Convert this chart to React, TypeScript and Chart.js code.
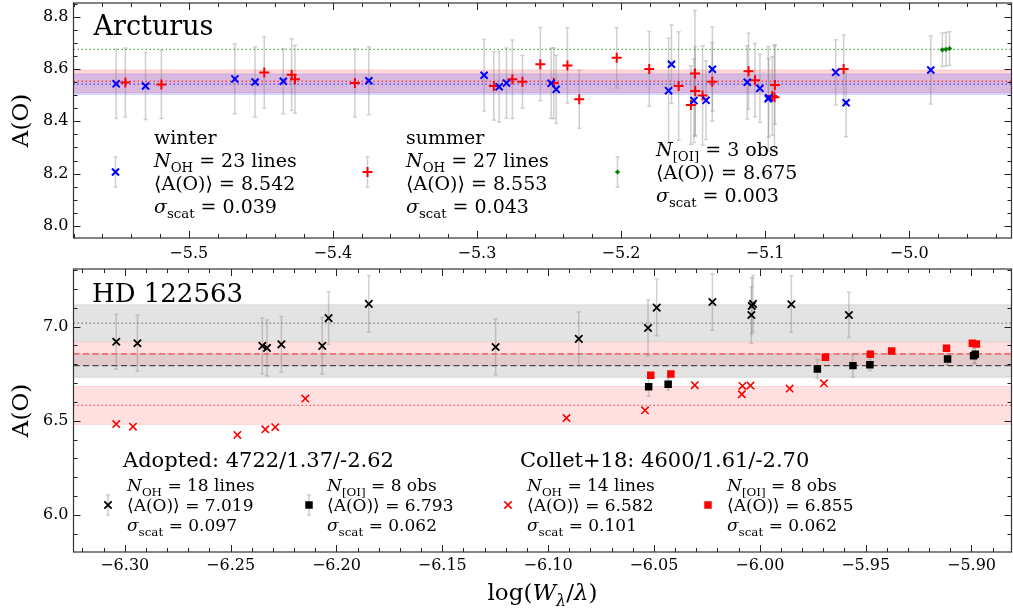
import React, { useEffect, useRef } from 'react';
import { Chart, registerables } from 'chart.js';

Chart.register(...registerables);

const SERIF = '"DejaVu Serif", "Liberation Serif", serif';
const W = 1013;
const TOP_H = 262;
const BOT_H = 352;

// ---------------- Arcturus (top panel) ----------------
const winterX = [-5.5504, -5.530, -5.468, -5.454, -5.4344, -5.375, -5.295, -5.2846, -5.2795, -5.2485, -5.245, -5.167, -5.165, -5.1494, -5.141, -5.1366, -5.1124, -5.1036, -5.0978, -5.0975, -5.051, -5.0438, -4.985];
const winterY = [8.543, 8.535, 8.562, 8.550, 8.553, 8.555, 8.576, 8.532, 8.546, 8.545, 8.522, 8.517, 8.618, 8.479, 8.480, 8.599, 8.549, 8.526, 8.486, 8.490, 8.587, 8.471, 8.596];
const winterErr = [0.132, 0.128, 0.133, 0.134, 0.124, 0.13, 0.137, 0.135, 0.134, 0.134, 0.13, 0.2, 0.15, 0.16, 0.15, 0.16, 0.14, 0.13, 0.2, 0.15, 0.125, 0.13, 0.13];

const summerX = [-5.544, -5.519, -5.4476, -5.4286, -5.4263, -5.3847, -5.2883, -5.2754, -5.2684, -5.256, -5.2467, -5.2372, -5.229, -5.203, -5.1804, -5.160, -5.1487, -5.1485, -5.1515, -5.1434, -5.1367, -5.1115, -5.107, -5.0932, -5.095, -5.0935, -5.0455];
const summerY = [8.548, 8.541, 8.586, 8.578, 8.561, 8.546, 8.535, 8.561, 8.551, 8.618, 8.546, 8.613, 8.484, 8.643, 8.600, 8.535, 8.583, 8.516, 8.462, 8.499, 8.551, 8.591, 8.557, 8.539, 8.497, 8.492, 8.600];
const summerErr = [0.132, 0.13, 0.136, 0.137, 0.13, 0.13, 0.13, 0.15, 0.10, 0.14, 0.135, 0.143, 0.111, 0.115, 0.143, 0.207, 0.24, 0.17, 0.15, 0.19, 0.15, 0.145, 0.14, 0.15, 0.15, 0.2, 0.13];

const oiArcX = [-4.977, -4.9745, -4.972];
const oiArcY = [8.673, 8.675, 8.678];
const oiArcErr = [0.064, 0.064, 0.064];

const winterMean = 8.542, winterSig = 0.039, winterN = 23;
const summerMean = 8.553, summerSig = 0.043, summerN = 27;
const oiArcMean = 8.675, oiArcSig = 0.003, oiArcN = 3;

const topXRange = [-5.58, -4.929];
const topYRange = [7.954, 8.852];
const topXTicks = [-5.5, -5.4, -5.3, -5.2, -5.1, -5.0];
const topYTicks = [8.0, 8.2, 8.4, 8.6, 8.8];

// ---------------- HD 122563 (bottom panel) ----------------
const ohAdoptX = [-6.304, -6.294, -6.235, -6.2328, -6.226, -6.2067, -6.2037, -6.1847, -6.1248, -6.0855, -6.0528, -6.0487, -6.0224, -6.004, -6.0038, -6.0032, -5.9851, -5.9579];
const ohAdoptY = [6.920, 6.912, 6.898, 6.887, 6.906, 6.898, 7.045, 7.121, 6.892, 6.935, 6.993, 7.101, 7.131, 7.062, 7.110, 7.121, 7.119, 7.062];
const ohAdoptErr = [0.146, 0.148, 0.148, 0.148, 0.148, 0.15, 0.139, 0.15, 0.148, 0.143, 0.148, 0.15, 0.15, 0.15, 0.15, 0.15, 0.15, 0.12];

const oiAdoptX = [-6.0525, -6.0433, -5.9728, -5.9560, -5.948, -5.9113, -5.8982, -5.899];
const oiAdoptY = [6.681, 6.694, 6.775, 6.793, 6.797, 6.828, 6.853, 6.845];
const oiAdoptErr = [0.05, 0.03, 0.05, 0.06, 0.03, 0.03, 0.05, 0.04];

const ohColX = [-6.304, -6.2961, -6.2468, -6.2336, -6.2289, -6.2147, -6.0913, -6.0542, -6.0307, -6.0085, -6.0082, -6.0044, -5.9859, -5.9697];
const ohColY = [6.483, 6.469, 6.425, 6.455, 6.466, 6.618, 6.515, 6.556, 6.689, 6.641, 6.685, 6.687, 6.671, 6.699];

const oiColX = [-6.0515, -6.042, -5.969, -5.9478, -5.9377, -5.9118, -5.8996, -5.8977];
const oiColY = [6.742, 6.749, 6.837, 6.853, 6.871, 6.885, 6.912, 6.908];

const ohAdoptMean = 7.019, ohAdoptSig = 0.097, ohAdoptN = 18;
const oiAdoptMean = 6.793, oiAdoptSig = 0.062, oiAdoptN = 8;
const ohColMean = 6.582, ohColSig = 0.101, ohColN = 14;
const oiColMean = 6.855, oiColSig = 0.062, oiColN = 8;

const botXRange = [-6.3242, -5.8811];
const botYRange = [5.8035, 7.306];
const botXTicks = [-6.30, -6.25, -6.20, -6.15, -6.10, -6.05, -6.00, -5.95, -5.90];
const botYTicks = [6.0, 6.5, 7.0];

// ---------------- helpers ----------------
type Seg = { t: string; it?: boolean; sub?: boolean };

function segFont(s: Seg, size: number) {
  const fs = s.sub ? size * 0.7 : size;
  return `${s.it ? 'italic ' : ''}${fs}px ${SERIF}`;
}
function richWidth(ctx: CanvasRenderingContext2D, segs: Seg[], size: number) {
  let w = 0;
  for (const s of segs) { ctx.font = segFont(s, size); w += ctx.measureText(s.t).width; }
  return w;
}
function drawRich(ctx: CanvasRenderingContext2D, segs: Seg[], x: number, y: number, size: number) {
  let cx = x;
  ctx.textAlign = 'left';
  ctx.textBaseline = 'alphabetic';
  for (const s of segs) {
    ctx.font = segFont(s, size);
    ctx.fillText(s.t, cx, y + (s.sub ? size * 0.27 : 0));
    cx += ctx.measureText(s.t).width;
  }
}
function drawMarker(ctx: CanvasRenderingContext2D, kind: string, x: number, y: number, r: number, color: string, lw: number) {
  ctx.save();
  ctx.strokeStyle = color; ctx.fillStyle = color; ctx.lineWidth = lw;
  ctx.beginPath();
  if (kind === 'crossRot') {
    const d = r * Math.SQRT1_2;
    ctx.moveTo(x - d, y - d); ctx.lineTo(x + d, y + d);
    ctx.moveTo(x - d, y + d); ctx.lineTo(x + d, y - d);
    ctx.stroke();
  } else if (kind === 'cross') {
    ctx.moveTo(x - r, y); ctx.lineTo(x + r, y);
    ctx.moveTo(x, y - r); ctx.lineTo(x, y + r);
    ctx.stroke();
  } else if (kind === 'rect') {
    const s = r * Math.SQRT1_2;
    ctx.fillRect(x - s, y - s, 2 * s, 2 * s);
  } else if (kind === 'rectRot') {
    ctx.moveTo(x, y - r); ctx.lineTo(x + r, y); ctx.lineTo(x, y + r); ctx.lineTo(x - r, y); ctx.closePath();
    ctx.fill();
  }
  ctx.restore();
}
function minorVals(min: number, max: number, step: number, majors: number[]) {
  const out: number[] = [];
  const n0 = Math.ceil(min / step - 1e-9), n1 = Math.floor(max / step + 1e-9);
  for (let n = n0; n <= n1; n++) {
    const v = n * step;
    if (!majors.some((m) => Math.abs(m - v) < step * 0.01)) out.push(v);
  }
  return out;
}
const fmt = (d: number) => (v: number | string) => {
  const n = Number(v);
  const s = Math.abs(n).toFixed(d);
  return (n < 0 ? '\u2212' : '') + s;
};
const pts = (xs: number[], ys: number[]) => xs.map((x, i) => ({ x, y: ys[i] }));
const sigmaLine = (v: number): Seg[] => [{ t: 'σ', it: true }, { t: 'scat', sub: true }, { t: ` = ${v.toFixed(3)}` }];
const meanLine = (v: number): Seg[] => [{ t: `⟨A(O)⟩ = ${v.toFixed(3)}` }];
const nohLine = (n: number): Seg[] => [{ t: 'N', it: true }, { t: 'OH', sub: true }, { t: ` = ${n} lines` }];
const noiLine = (n: number): Seg[] => [{ t: 'N', it: true }, { t: '[OI]', sub: true }, { t: ` = ${n} obs` }];

interface Band { lo: number; hi: number; fill: string }
interface HLine { y: number; color: string; dash: number[]; width: number }
interface ErrSet { xs: number[]; ys: number[]; errs: number[] }
interface LegendEntry { kind: string; color: string; r: number; lw: number; bar: number; hx: number; tx: number; lines: Seg[][] }
interface PanelCfg {
  bands: Band[]; lines: HLine[]; errs: ErrSet[];
  title: string; titleSize: number; titleDX: number; titleDY: number;
  legend: LegendEntry[]; legendCY: number; legendSize: number; legendLH: number;
  legendTitles: { text: string; dx: number }[]; legendTitleDY: number; legendTitleSize: number;
  xMajor: number[]; xMinorStep: number; yMajor: number[]; yMinorStep: number;
  xLabel?: Seg[]; xLabelY?: number;
}

function makePlugin(cfg: PanelCfg) {
  return {
    id: 'panelDecor',
    beforeDatasetsDraw(chart: any) {
      const { ctx, chartArea: a, scales } = chart;
      const xs = scales.x, ys = scales.y;
      ctx.save();
      ctx.beginPath();
      ctx.rect(a.left, a.top, a.right - a.left, a.bottom - a.top);
      ctx.clip();
      for (const b of cfg.bands) {
        const y1 = ys.getPixelForValue(b.hi), y2 = ys.getPixelForValue(b.lo);
        ctx.fillStyle = b.fill;
        ctx.fillRect(a.left, y1, a.right - a.left, y2 - y1);
        ctx.strokeStyle = b.fill; ctx.lineWidth = 1; ctx.setLineDash([]);
        ctx.beginPath();
        ctx.moveTo(a.left, y1); ctx.lineTo(a.right, y1);
        ctx.moveTo(a.left, y2); ctx.lineTo(a.right, y2);
        ctx.stroke();
      }
      for (const l of cfg.lines) {
        const y = ys.getPixelForValue(l.y);
        ctx.strokeStyle = l.color; ctx.lineWidth = l.width; ctx.setLineDash(l.dash);
        ctx.beginPath(); ctx.moveTo(a.left, y); ctx.lineTo(a.right, y); ctx.stroke();
      }
      ctx.setLineDash([]);
      ctx.strokeStyle = 'rgba(128,128,128,0.38)';
      ctx.lineWidth = 1.5;
      for (const e of cfg.errs) {
        e.xs.forEach((x, i) => {
          const px = xs.getPixelForValue(x);
          const p1 = ys.getPixelForValue(e.ys[i] + e.errs[i]);
          const p2 = ys.getPixelForValue(e.ys[i] - e.errs[i]);
          ctx.beginPath();
          ctx.moveTo(px, p1); ctx.lineTo(px, p2);
          ctx.moveTo(px - 2, p1); ctx.lineTo(px + 2, p1);
          ctx.moveTo(px - 2, p2); ctx.lineTo(px + 2, p2);
          ctx.stroke();
        });
      }
      ctx.restore();
    },
    afterDatasetsDraw(chart: any) {
      const { ctx, chartArea: a, scales } = chart;
      const xs = scales.x, ys = scales.y;
      ctx.save();
      // ticks (inward, all four sides)
      ctx.strokeStyle = '#222';
      ctx.lineWidth = 1;
      const xMin = minorVals(xs.min, xs.max, cfg.xMinorStep, cfg.xMajor);
      const yMin = minorVals(ys.min, ys.max, cfg.yMinorStep, cfg.yMajor);
      const doX = (vals: number[], len: number) => {
        for (const v of vals) {
          const px = Math.round(xs.getPixelForValue(v)) + 0.5;
          ctx.beginPath();
          ctx.moveTo(px, a.bottom); ctx.lineTo(px, a.bottom - len);
          ctx.moveTo(px, a.top); ctx.lineTo(px, a.top + len);
          ctx.stroke();
        }
      };
      const doY = (vals: number[], len: number) => {
        for (const v of vals) {
          const py = Math.round(ys.getPixelForValue(v)) + 0.5;
          ctx.beginPath();
          ctx.moveTo(a.left, py); ctx.lineTo(a.left + len, py);
          ctx.moveTo(a.right, py); ctx.lineTo(a.right - len, py);
          ctx.stroke();
        }
      };
      doX(cfg.xMajor, 7); doX(xMin, 4);
      doY(cfg.yMajor, 7); doY(yMin, 4);
      ctx.lineWidth = 1.2;
      ctx.strokeStyle = '#333';
      ctx.strokeRect(a.left, a.top, a.right - a.left, a.bottom - a.top);

      ctx.fillStyle = '#000';
      // title
      ctx.font = `${cfg.titleSize}px ${SERIF}`;
      ctx.textAlign = 'left'; ctx.textBaseline = 'alphabetic';
      ctx.fillText(cfg.title, a.left + cfg.titleDX, a.top + cfg.titleDY);
      // legend titles
      for (const t of cfg.legendTitles) {
        ctx.font = `${cfg.legendTitleSize}px ${SERIF}`;
        ctx.fillText(t.text, a.left + t.dx, a.top + cfg.legendTitleDY);
      }
      // legend entries
      for (const e of cfg.legend) {
        const cx = a.left + e.hx, cy = a.top + cfg.legendCY;
        if (e.bar > 0) {
          ctx.strokeStyle = 'rgba(128,128,128,0.38)'; ctx.lineWidth = 1.5;
          ctx.beginPath();
          ctx.moveTo(cx, cy - e.bar); ctx.lineTo(cx, cy + e.bar);
          ctx.moveTo(cx - 2, cy - e.bar); ctx.lineTo(cx + 2, cy - e.bar);
          ctx.moveTo(cx - 2, cy + e.bar); ctx.lineTo(cx + 2, cy + e.bar);
          ctx.stroke();
        }
        drawMarker(ctx, e.kind, cx, cy, e.r, e.color, e.lw);
        const n = e.lines.length;
        ctx.fillStyle = '#000';
        e.lines.forEach((segs, i) => {
          const by = cy + (i - (n - 1) / 2) * cfg.legendLH + cfg.legendSize * 0.36;
          drawRich(ctx, segs, a.left + e.tx, by, cfg.legendSize);
        });
      }
      // y label
      ctx.save();
      ctx.translate(22, (a.top + a.bottom) / 2);
      ctx.rotate(-Math.PI / 2);
      ctx.font = `23px ${SERIF}`;
      ctx.textAlign = 'center'; ctx.textBaseline = 'middle';
      ctx.fillText('A(O)', 0, 0);
      ctx.restore();
      // x label
      if (cfg.xLabel && cfg.xLabelY) {
        const w = richWidth(ctx, cfg.xLabel, 23);
        drawRich(ctx, cfg.xLabel, (a.left + a.right) / 2 - w / 2, cfg.xLabelY, 23);
      }
      ctx.restore();
    },
  };
}

function scaleOpts(range: number[], ticks: number[], dec: number, pad: number, fitSize: number, isX: boolean) {
  return {
    type: 'linear' as const,
    min: range[0],
    max: range[1],
    grid: { display: false, drawTicks: false },
    border: { display: false },
    ticks: {
      color: '#000',
      font: { family: SERIF, size: 16 },
      padding: pad,
      autoSkip: false,
      maxRotation: 0,
      callback: fmt(dec),
    },
    afterBuildTicks: (s: any) => { s.ticks = ticks.map((v) => ({ value: v })); },
    afterFit: (s: any) => {
      if (isX) { s.height = fitSize; s.paddingLeft = 0; s.paddingRight = 0; }
      else { s.width = fitSize; s.paddingTop = 0; s.paddingBottom = 0; }
    },
  };
}

function topConfig(): any {
  const cfg: PanelCfg = {
    bands: [
      { lo: summerMean - summerSig, hi: summerMean + summerSig, fill: 'rgba(255,0,0,0.15)' },
      { lo: winterMean - winterSig, hi: winterMean + winterSig, fill: 'rgba(0,0,255,0.15)' },
    ],
    lines: [
      { y: oiArcMean, color: 'rgba(0,128,0,0.65)', dash: [1.5, 2.5], width: 1.3 },
      { y: summerMean, color: 'rgba(255,0,0,0.65)', dash: [1.5, 2.5], width: 1.3 },
      { y: winterMean, color: 'rgba(0,0,255,0.65)', dash: [1.5, 2.5], width: 1.3 },
    ],
    errs: [
      { xs: winterX, ys: winterY, errs: winterErr },
      { xs: summerX, ys: summerY, errs: summerErr },
      { xs: oiArcX, ys: oiArcY, errs: oiArcErr },
    ],
    title: 'Arcturus', titleSize: 27, titleDX: 20, titleDY: 32,
    legend: [
      { kind: 'crossRot', color: '#0000ff', r: 5, lw: 2, bar: 15, hx: 42, tx: 80.5,
        lines: [[{ t: 'winter' }], nohLine(winterN), meanLine(winterMean), sigmaLine(winterSig)] },
      { kind: 'cross', color: '#ff0000', r: 5, lw: 2, bar: 15, hx: 294, tx: 332.5,
        lines: [[{ t: 'summer' }], nohLine(summerN), meanLine(summerMean), sigmaLine(summerSig)] },
      { kind: 'rectRot', color: '#008000', r: 2.6, lw: 1, bar: 15, hx: 544, tx: 582.5,
        lines: [noiLine(oiArcN), meanLine(oiArcMean), sigmaLine(oiArcSig)] },
    ],
    legendCY: 169, legendSize: 19, legendLH: 23,
    legendTitles: [], legendTitleDY: 0, legendTitleSize: 21,
    xMajor: topXTicks, xMinorStep: 0.02, yMajor: topYTicks, yMinorStep: 0.05,
  };
  return {
    type: 'scatter',
    data: {
      datasets: [
        { data: pts(oiArcX, oiArcY), pointStyle: 'rectRot', pointRadius: 2.6, backgroundColor: '#008000', borderColor: '#008000', borderWidth: 0 },
        { data: pts(winterX, winterY), pointStyle: 'crossRot', pointRadius: 5, borderColor: '#0000ff', backgroundColor: '#0000ff', borderWidth: 2 },
        { data: pts(summerX, summerY), pointStyle: 'cross', pointRadius: 5, borderColor: '#ff0000', backgroundColor: '#ff0000', borderWidth: 2 },
      ],
    },
    options: {
      responsive: false,
      animation: false,
      devicePixelRatio: 1,
      layout: { autoPadding: false, padding: { top: 3, right: 1.5, left: 0, bottom: 0 } },
      plugins: { legend: { display: false }, tooltip: { enabled: false } },
      scales: {
        x: scaleOpts(topXRange, topXTicks, 1, 6, TOP_H - 238, true),
        y: scaleOpts(topYRange, topYTicks, 1, 5, 73.5, false),
      },
    },
    plugins: [makePlugin(cfg)],
  };
}

function botConfig(): any {
  const cfg: PanelCfg = {
    bands: [
      { lo: ohAdoptMean - ohAdoptSig, hi: ohAdoptMean + ohAdoptSig, fill: 'rgba(128,128,128,0.22)' },
      { lo: ohColMean - ohColSig, hi: ohColMean + ohColSig, fill: 'rgba(255,0,0,0.12)' },
      { lo: oiColMean - oiColSig, hi: oiColMean + oiColSig, fill: 'rgba(255,0,0,0.12)' },
      { lo: oiAdoptMean - oiAdoptSig, hi: oiAdoptMean + oiAdoptSig, fill: 'rgba(128,128,128,0.22)' },
    ],
    lines: [
      { y: ohAdoptMean, color: 'rgba(90,90,90,0.75)', dash: [1.5, 2.5], width: 1.3 },
      { y: ohColMean, color: 'rgba(255,0,0,0.65)', dash: [1.5, 2.5], width: 1.3 },
      { y: oiColMean, color: 'rgba(255,0,0,0.65)', dash: [6, 3.5], width: 1.3 },
      { y: oiAdoptMean, color: 'rgba(0,0,0,0.65)', dash: [6, 3.5], width: 1.3 },
    ],
    errs: [
      { xs: ohAdoptX, ys: ohAdoptY, errs: ohAdoptErr },
      { xs: oiAdoptX, ys: oiAdoptY, errs: oiAdoptErr },
    ],
    title: 'HD 122563', titleSize: 26, titleDX: 18.5, titleDY: 33,
    legend: [
      { kind: 'crossRot', color: '#000', r: 5.2, lw: 1.8, bar: 10, hx: 34.5, tx: 53.5,
        lines: [nohLine(ohAdoptN), meanLine(ohAdoptMean), sigmaLine(ohAdoptSig)] },
      { kind: 'rect', color: '#000', r: 5.3, lw: 1, bar: 10, hx: 235.5, tx: 253.5,
        lines: [noiLine(oiAdoptN), meanLine(oiAdoptMean), sigmaLine(oiAdoptSig)] },
      { kind: 'crossRot', color: '#ff0000', r: 5.2, lw: 1.6, bar: 0, hx: 434.5, tx: 453.5,
        lines: [nohLine(ohColN), meanLine(ohColMean), sigmaLine(ohColSig)] },
      { kind: 'rect', color: '#ff0000', r: 5.3, lw: 1, bar: 0, hx: 634.5, tx: 653.5,
        lines: [noiLine(oiColN), meanLine(oiColMean), sigmaLine(oiColSig)] },
    ],
    legendCY: 236, legendSize: 17, legendLH: 20,
    legendTitles: [
      { text: 'Adopted: 4722/1.37/-2.62', dx: 49.5 },
      { text: 'Collet+18: 4600/1.61/-2.70', dx: 446.5 },
    ],
    legendTitleDY: 198, legendTitleSize: 21,
    xMajor: botXTicks, xMinorStep: 0.01, yMajor: botYTicks, yMinorStep: 0.1,
    xLabel: [{ t: 'log(' }, { t: 'W', it: true }, { t: 'λ', it: true, sub: true }, { t: '/' }, { t: 'λ', it: true }, { t: ')' }],
    xLabelY: 338,
  };
  return {
    type: 'scatter',
    data: {
      datasets: [
        { data: pts(oiColX, oiColY), pointStyle: 'rect', pointRadius: 5.3, backgroundColor: '#ff0000', borderColor: '#ff0000', borderWidth: 0 },
        { data: pts(oiAdoptX, oiAdoptY), pointStyle: 'rect', pointRadius: 5.3, backgroundColor: '#000', borderColor: '#000', borderWidth: 0 },
        { data: pts(ohColX, ohColY), pointStyle: 'crossRot', pointRadius: 5.2, borderColor: '#ff0000', backgroundColor: '#ff0000', borderWidth: 1.6 },
        { data: pts(ohAdoptX, ohAdoptY), pointStyle: 'crossRot', pointRadius: 5.2, borderColor: '#000', backgroundColor: '#000', borderWidth: 1.8 },
      ],
    },
    options: {
      responsive: false,
      animation: false,
      devicePixelRatio: 1,
      layout: { autoPadding: false, padding: { top: 7, right: 1.5, left: 0, bottom: 0 } },
      plugins: { legend: { display: false }, tooltip: { enabled: false } },
      scales: {
        x: scaleOpts(botXRange, botXTicks, 2, 4, BOT_H - 290, true),
        y: scaleOpts(botYRange, botYTicks, 1, 5, 73.5, false),
      },
    },
    plugins: [makePlugin(cfg)],
  };
}

export default function App() {
  const topRef = useRef<HTMLCanvasElement>(null);
  const botRef = useRef<HTMLCanvasElement>(null);
  useEffect(() => {
    const c1 = new Chart(topRef.current as HTMLCanvasElement, topConfig());
    const c2 = new Chart(botRef.current as HTMLCanvasElement, botConfig());
    return () => { c1.destroy(); c2.destroy(); };
  }, []);
  return (
    <div style={{ position: 'fixed', left: 0, top: 0, width: W, height: TOP_H + BOT_H, background: '#fff' }}>
      <canvas ref={topRef} width={W} height={TOP_H} style={{ position: 'absolute', left: 0, top: 0, width: W, height: TOP_H }} />
      <canvas ref={botRef} width={W} height={BOT_H} style={{ position: 'absolute', left: 0, top: TOP_H, width: W, height: BOT_H }} />
    </div>
  );
}
